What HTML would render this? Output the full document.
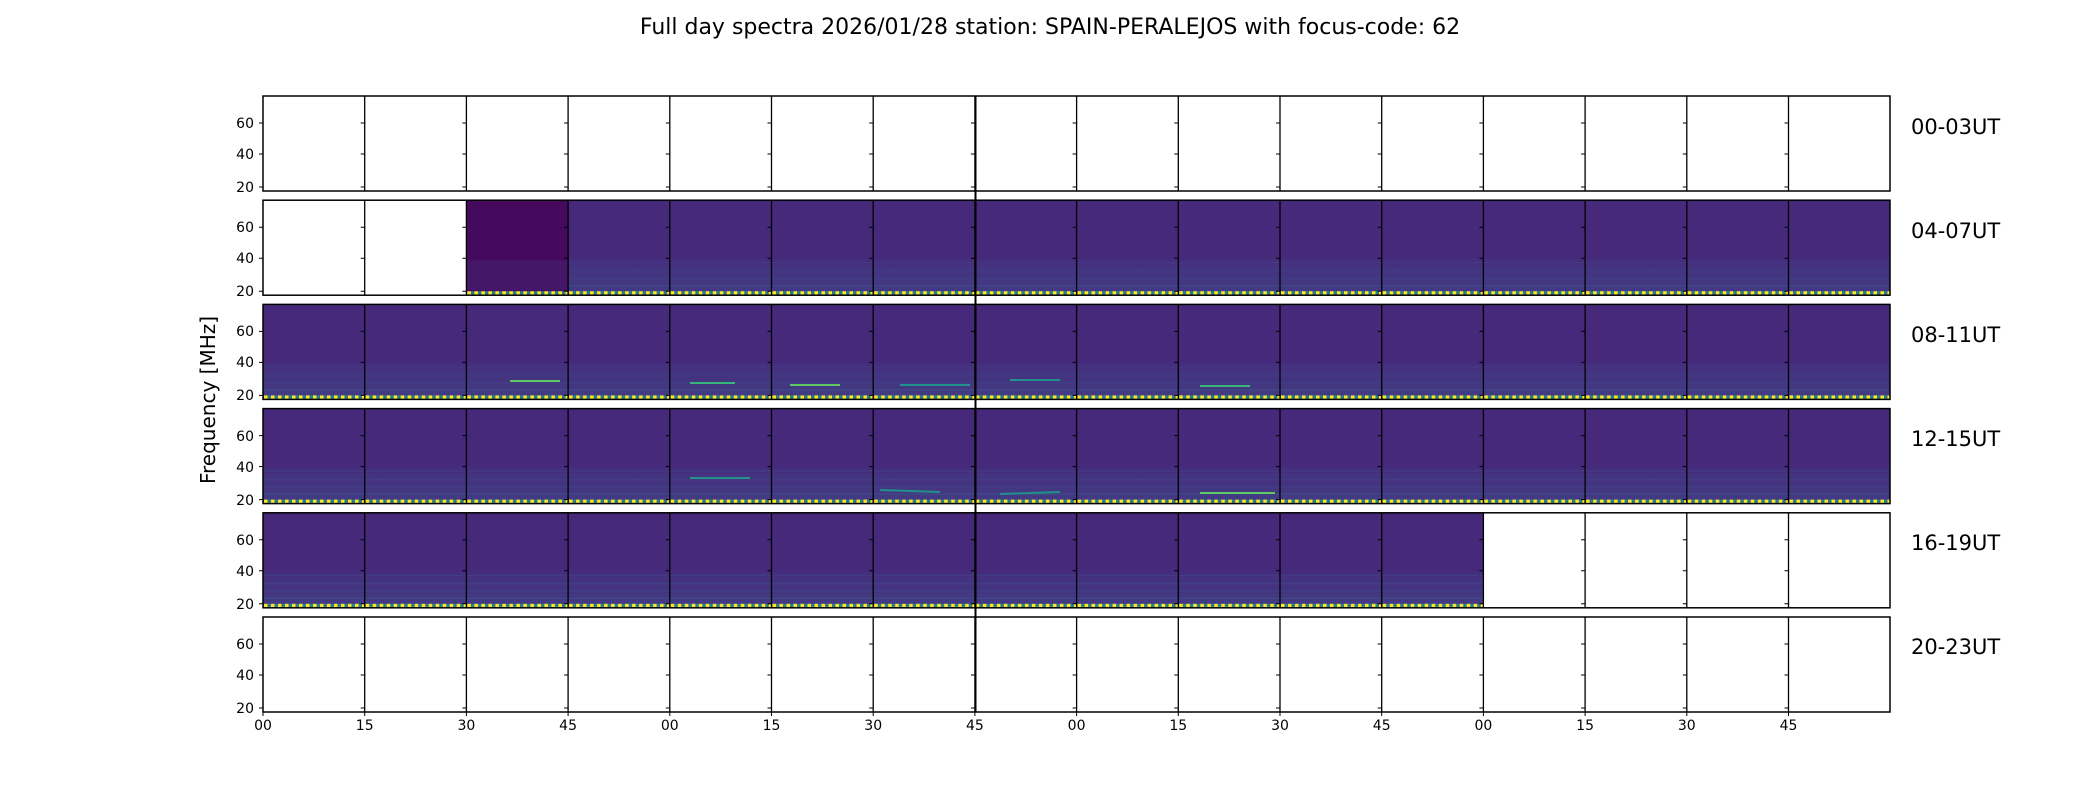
<!DOCTYPE html>
<html><head><meta charset="utf-8"><style>
html,body{margin:0;padding:0;background:#fff;}
svg{display:block;font-family:"DejaVu Sans","Liberation Sans",sans-serif;}
</style></head><body>
<svg width="2100" height="800" viewBox="0 0 2100 800" xmlns="http://www.w3.org/2000/svg">
<defs>
<pattern id="dots" x="0" y="0" width="7" height="4" patternUnits="userSpaceOnUse">
<rect width="7" height="4" fill="#2a7d8e"/><rect x="1" y="0" width="3.5" height="4" fill="#fde725"/>
</pattern>
<linearGradient id="lowband" x1="0" y1="0" x2="0" y2="1">
<stop offset="0" stop-color="#46297a"/><stop offset="0.6" stop-color="#46297a"/>
<stop offset="0.66" stop-color="#45307f"/><stop offset="0.85" stop-color="#443681"/><stop offset="0.96" stop-color="#433b84"/><stop offset="1" stop-color="#3a4a8c"/>
</linearGradient>
<g id="d">
<rect width="101.7" height="95" fill="url(#lowband)"/>
<rect y="62" width="101.7" height="1" fill="#3f4a8a" opacity="0.5"/>
<rect y="70" width="101.7" height="1" fill="#3b528b" opacity="0.5"/>
<rect y="78" width="101.7" height="1" fill="#3b528b" opacity="0.4"/>
<rect y="85" width="101.7" height="1" fill="#31688e" opacity="0.5"/>
<rect y="91" width="101.7" height="4" fill="url(#dots)"/>
</g>
<g id="dk">
<rect width="101.7" height="95" fill="#450a5e"/>
<rect y="60" width="101.7" height="30" fill="#462a79" opacity="0.4"/>
<rect y="91" width="101.7" height="4" fill="url(#dots)"/>
</g>
</defs>
<text x="1050" y="34" font-size="22" text-anchor="middle">Full day spectra 2026/01/28 station: SPAIN-PERALEJOS with focus-code: 62</text>
<text transform="translate(215,400) rotate(-90)" font-size="20" text-anchor="middle">Frequency [MHz]</text>

<g>
<use href="#dk" x="466.4" y="200.2"/>
<use href="#d" x="568.1" y="200.2"/><use href="#d" x="669.8" y="200.2"/><use href="#d" x="771.5" y="200.2"/><use href="#d" x="873.2" y="200.2"/><use href="#d" x="974.9" y="200.2"/><use href="#d" x="1076.6" y="200.2"/><use href="#d" x="1178.3" y="200.2"/><use href="#d" x="1280" y="200.2"/><use href="#d" x="1381.7" y="200.2"/><use href="#d" x="1483.4" y="200.2"/><use href="#d" x="1585.1" y="200.2"/><use href="#d" x="1686.8" y="200.2"/><use href="#d" x="1788.5" y="200.2"/>
</g>
<g>
<use href="#d" x="263" y="304.4"/><use href="#d" x="364.7" y="304.4"/><use href="#d" x="466.4" y="304.4"/><use href="#d" x="568.1" y="304.4"/><use href="#d" x="669.8" y="304.4"/><use href="#d" x="771.5" y="304.4"/><use href="#d" x="873.2" y="304.4"/><use href="#d" x="974.9" y="304.4"/><use href="#d" x="1076.6" y="304.4"/><use href="#d" x="1178.3" y="304.4"/><use href="#d" x="1280" y="304.4"/><use href="#d" x="1381.7" y="304.4"/><use href="#d" x="1483.4" y="304.4"/><use href="#d" x="1585.1" y="304.4"/><use href="#d" x="1686.8" y="304.4"/><use href="#d" x="1788.5" y="304.4"/>
</g>
<g>
<use href="#d" x="263" y="408.6"/><use href="#d" x="364.7" y="408.6"/><use href="#d" x="466.4" y="408.6"/><use href="#d" x="568.1" y="408.6"/><use href="#d" x="669.8" y="408.6"/><use href="#d" x="771.5" y="408.6"/><use href="#d" x="873.2" y="408.6"/><use href="#d" x="974.9" y="408.6"/><use href="#d" x="1076.6" y="408.6"/><use href="#d" x="1178.3" y="408.6"/><use href="#d" x="1280" y="408.6"/><use href="#d" x="1381.7" y="408.6"/><use href="#d" x="1483.4" y="408.6"/><use href="#d" x="1585.1" y="408.6"/><use href="#d" x="1686.8" y="408.6"/><use href="#d" x="1788.5" y="408.6"/>
</g>
<g>
<use href="#d" x="263" y="512.8"/><use href="#d" x="364.7" y="512.8"/><use href="#d" x="466.4" y="512.8"/><use href="#d" x="568.1" y="512.8"/><use href="#d" x="669.8" y="512.8"/><use href="#d" x="771.5" y="512.8"/><use href="#d" x="873.2" y="512.8"/><use href="#d" x="974.9" y="512.8"/><use href="#d" x="1076.6" y="512.8"/><use href="#d" x="1178.3" y="512.8"/><use href="#d" x="1280" y="512.8"/><use href="#d" x="1381.7" y="512.8"/>
</g>
<g stroke-width="2">
<line x1="510" y1="381" x2="560" y2="381" stroke="#5ec962"/>
<line x1="690" y1="383" x2="735" y2="383" stroke="#35b779"/>
<line x1="790" y1="385" x2="840" y2="385" stroke="#5ec962"/>
<line x1="900" y1="385" x2="970" y2="385" stroke="#21918c"/>
<line x1="1010" y1="380" x2="1060" y2="380" stroke="#21918c"/>
<line x1="1200" y1="386" x2="1250" y2="386" stroke="#35b779"/>
<line x1="880" y1="490" x2="940" y2="492" stroke="#21918c"/>
<line x1="1200" y1="493" x2="1275" y2="493" stroke="#5ec962"/>
<line x1="1000" y1="494" x2="1060" y2="492" stroke="#21918c"/>
<line x1="690" y1="478" x2="750" y2="478" stroke="#21918c"/>
</g>

<g fill="none" stroke="#000" stroke-width="1.5">
<rect x="263" y="96" width="1627" height="95"/>
<rect x="263" y="200.2" width="1627" height="95"/>
<rect x="263" y="304.4" width="1627" height="95"/>
<rect x="263" y="408.6" width="1627" height="95"/>
<rect x="263" y="512.8" width="1627" height="95"/>
<rect x="263" y="617" width="1627" height="95"/>
</g>
<g stroke="#000" stroke-width="1.3">
<path d="M364.7 96V191M466.4 96V191M568.1 96V191M669.8 96V191M771.5 96V191M873.2 96V191M974.9 96V191M1076.6 96V191M1178.3 96V191M1280 96V191M1381.7 96V191M1483.4 96V191M1585.1 96V191M1686.8 96V191M1788.5 96V191"/>
<path d="M364.7 200.2V295.2M466.4 200.2V295.2M568.1 200.2V295.2M669.8 200.2V295.2M771.5 200.2V295.2M873.2 200.2V295.2M974.9 200.2V295.2M1076.6 200.2V295.2M1178.3 200.2V295.2M1280 200.2V295.2M1381.7 200.2V295.2M1483.4 200.2V295.2M1585.1 200.2V295.2M1686.8 200.2V295.2M1788.5 200.2V295.2"/>
<path d="M364.7 304.4V399.4M466.4 304.4V399.4M568.1 304.4V399.4M669.8 304.4V399.4M771.5 304.4V399.4M873.2 304.4V399.4M974.9 304.4V399.4M1076.6 304.4V399.4M1178.3 304.4V399.4M1280 304.4V399.4M1381.7 304.4V399.4M1483.4 304.4V399.4M1585.1 304.4V399.4M1686.8 304.4V399.4M1788.5 304.4V399.4"/>
<path d="M364.7 408.6V503.6M466.4 408.6V503.6M568.1 408.6V503.6M669.8 408.6V503.6M771.5 408.6V503.6M873.2 408.6V503.6M974.9 408.6V503.6M1076.6 408.6V503.6M1178.3 408.6V503.6M1280 408.6V503.6M1381.7 408.6V503.6M1483.4 408.6V503.6M1585.1 408.6V503.6M1686.8 408.6V503.6M1788.5 408.6V503.6"/>
<path d="M364.7 512.8V607.8M466.4 512.8V607.8M568.1 512.8V607.8M669.8 512.8V607.8M771.5 512.8V607.8M873.2 512.8V607.8M974.9 512.8V607.8M1076.6 512.8V607.8M1178.3 512.8V607.8M1280 512.8V607.8M1381.7 512.8V607.8M1483.4 512.8V607.8M1585.1 512.8V607.8M1686.8 512.8V607.8M1788.5 512.8V607.8"/>
<path d="M364.7 617V712M466.4 617V712M568.1 617V712M669.8 617V712M771.5 617V712M873.2 617V712M974.9 617V712M1076.6 617V712M1178.3 617V712M1280 617V712M1381.7 617V712M1483.4 617V712M1585.1 617V712M1686.8 617V712M1788.5 617V712"/>
<path d="M975.5 96V712" stroke-width="2"/>
</g>
<g id="yt" stroke="#000" stroke-width="1">
<path d="M259 123H263M259 154H263M259 187H263M360.7 123H364.7M360.7 154H364.7M360.7 187H364.7M462.4 123H466.4M462.4 154H466.4M462.4 187H466.4M564.1 123H568.1M564.1 154H568.1M564.1 187H568.1M665.8 123H669.8M665.8 154H669.8M665.8 187H669.8M767.5 123H771.5M767.5 154H771.5M767.5 187H771.5M869.2 123H873.2M869.2 154H873.2M869.2 187H873.2M970.9 123H974.9M970.9 154H974.9M970.9 187H974.9M1072.6 123H1076.6M1072.6 154H1076.6M1072.6 187H1076.6M1174.3 123H1178.3M1174.3 154H1178.3M1174.3 187H1178.3M1276 123H1280M1276 154H1280M1276 187H1280M1377.7 123H1381.7M1377.7 154H1381.7M1377.7 187H1381.7M1479.4 123H1483.4M1479.4 154H1483.4M1479.4 187H1483.4M1581.1 123H1585.1M1581.1 154H1585.1M1581.1 187H1585.1M1682.8 123H1686.8M1682.8 154H1686.8M1682.8 187H1686.8M1784.5 123H1788.5M1784.5 154H1788.5M1784.5 187H1788.5"/>
</g>
<use href="#yt" y="104.2"/><use href="#yt" y="208.4"/><use href="#yt" y="312.6"/><use href="#yt" y="416.8"/><use href="#yt" y="521"/>

<g font-size="14" text-anchor="end" fill="#000">
<text x="254" y="128">60</text><text x="254" y="159">40</text><text x="254" y="192">20</text>
<text x="254" y="232">60</text><text x="254" y="263">40</text><text x="254" y="296">20</text>
<text x="254" y="336">60</text><text x="254" y="367">40</text><text x="254" y="400">20</text>
<text x="254" y="441">60</text><text x="254" y="472">40</text><text x="254" y="505">20</text>
<text x="254" y="545">60</text><text x="254" y="576">40</text><text x="254" y="609">20</text>
<text x="254" y="649">60</text><text x="254" y="680">40</text><text x="254" y="713">20</text>
</g>
<g stroke="#000"><path d="M263 712v4M364.7 712v4M466.4 712v4M568.1 712v4M669.8 712v4M771.5 712v4M873.2 712v4M974.9 712v4M1076.6 712v4M1178.3 712v4M1280 712v4M1381.7 712v4M1483.4 712v4M1585.1 712v4M1686.8 712v4M1788.5 712v4"/></g>
<g font-size="14" text-anchor="middle" fill="#000">
<text x="263" y="730">00</text><text x="364.7" y="730">15</text><text x="466.4" y="730">30</text><text x="568.1" y="730">45</text>
<text x="669.8" y="730">00</text><text x="771.5" y="730">15</text><text x="873.2" y="730">30</text><text x="974.9" y="730">45</text>
<text x="1076.6" y="730">00</text><text x="1178.3" y="730">15</text><text x="1280" y="730">30</text><text x="1381.7" y="730">45</text>
<text x="1483.4" y="730">00</text><text x="1585.1" y="730">15</text><text x="1686.8" y="730">30</text><text x="1788.5" y="730">45</text>
</g>
<g font-size="21" fill="#000">
<text x="1911" y="134">00-03UT</text>
<text x="1911" y="238">04-07UT</text>
<text x="1911" y="342">08-11UT</text>
<text x="1911" y="446">12-15UT</text>
<text x="1911" y="550">16-19UT</text>
<text x="1911" y="654">20-23UT</text>
</g>
</svg>
</body></html>
